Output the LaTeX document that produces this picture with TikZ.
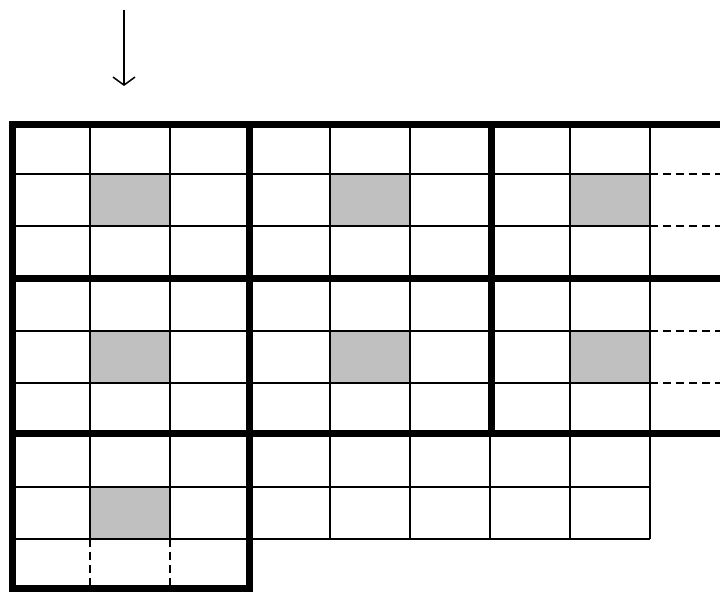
\documentclass[tikz,border=0pt]{standalone}
\usetikzlibrary{arrows.meta}
\definecolor{cellgray}{RGB}{192,192,192}
\begin{document}
\begin{tikzpicture}[
		x=1pt, y=-1pt,
		gridline/.style={draw, line width=1.8pt},
		blockline/.style={draw, line width=7pt, line cap=rect},
		dashline/.style={draw, line width=1.8pt, dash pattern=on 8pt off 5pt},
		shade/.style={fill=cellgray},
		arr/.style={-{Straight Barb[length=8pt, width=22pt]}, line width=1.5pt},
	]
	\useasboundingbox (0,0) rectangle (720,592);

	% Shaded centre cells
	\foreach \cx in {90, 330, 570} {
		\fill[shade] (\cx,174) rectangle ++(80,52);
		\fill[shade] (\cx,331) rectangle ++(80,52);
	}
	\fill[shade] (90,487) rectangle (170,539);

	% Thin grid, upper blocks
	\foreach \ry in {174, 226, 331, 383}
		\draw[gridline] (12,\ry) -- (650,\ry);
	\foreach \cx in {90, 170, 330, 410, 570, 650}
		\draw[gridline] (\cx,124) -- (\cx,433);

	% Thin grid, lower row
	\foreach \ry in {487, 539}
		\draw[gridline] (12,\ry) -- (650,\ry);
	\foreach \cx in {90, 170, 330, 410, 490, 570, 650}
		\draw[gridline] (\cx,433) -- (\cx,539);

	% Dashed continuations
	\foreach \ry in {174, 226, 331, 383}
		\draw[dashline] (650,\ry) -- (720,\ry);
	\foreach \cx in {90, 170}
		\draw[dashline] (\cx,539) -- (\cx,588);

	% Block borders
	\foreach \ry in {124, 278, 433}
		\draw[blockline] (12,\ry) -- (724,\ry);
	\draw[blockline] (12,124) -- (12,588) -- (249,588) -- (249,124);
	\draw[blockline] (491,124) -- (491,433);

	% Arrow
	\coordinate (start) at (124,10);
	\coordinate (stop)  at (124,86);
	\draw[arr] (start) -- (stop);

\end{tikzpicture}
\end{document}
